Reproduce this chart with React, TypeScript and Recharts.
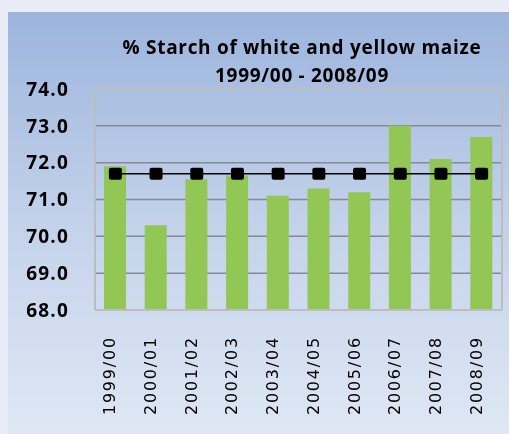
import { ComposedChart, Bar, Line, XAxis, YAxis, CartesianGrid } from 'recharts';

const seasons = ['1999/00', '2000/01', '2001/02', '2002/03', '2003/04', '2004/05', '2005/06', '2006/07', '2007/08', '2008/09'];
const starch = [71.9, 70.3, 71.55, 71.65, 71.1, 71.3, 71.2, 73.0, 72.1, 72.7];
const average = [71.7, 71.7, 71.7, 71.7, 71.7, 71.7, 71.7, 71.7, 71.7, 71.7];
const yTicks = [68, 69, 70, 71, 72, 73, 74];

const data = seasons.map((season, i) => ({ season, starch: starch[i], avg: average[i] }));

const FONT = '"DejaVu Sans", sans-serif';
const TITLE_FONT = '"Open Sans", "DejaVu Sans", sans-serif';

const SeasonTick = (props: any) => {
  const { x, y, payload } = props;
  return (
    <text
      x={x}
      y={y}
      transform={`rotate(-90, ${x}, ${y})`}
      textAnchor="end"
      fill="#000"
      fontFamily={FONT}
      fontSize={16}
      letterSpacing={1.8}
    >
      {payload.value}
    </text>
  );
};

const SquareDot = (props: any) => {
  const { cx, cy } = props;
  if (cx == null || cy == null) return null;
  return <rect x={cx - 6.5} y={cy - 6} width={13} height={12} rx={2} fill="#000" />;
};

export default function App() {
  return (
    <div style={{ position: 'fixed', inset: 0, background: '#e8ecf6' }}>
      <div
        style={{
          position: 'absolute',
          left: 8,
          top: 12,
          width: 501,
          height: 422,
          background: 'linear-gradient(to bottom, #9cb4dd 0%, #c3d2ea 50%, #dfe7f4 100%)',
        }}
      >
        <div
          style={{
            position: 'absolute',
            left: 0,
            width: 588,
            top: 21,
            textAlign: 'center',
            fontFamily: TITLE_FONT,
            fontWeight: 'bold',
            fontSize: 19,
            lineHeight: '28px',
            letterSpacing: 0.7,
            color: '#000',
          }}
        >
          % Starch of white and yellow maize
          <br />
          1999/00 - 2008/09
        </div>
        <ComposedChart
          width={501}
          height={422}
          data={data}
          margin={{ top: 76, right: 6, left: 0, bottom: 0 }}
          barCategoryGap="46%"
        >
          <CartesianGrid vertical={false} stroke="#858a94" strokeWidth={1.5} />
          <XAxis
            dataKey="season"
            height={124}
            axisLine={{ stroke: '#bdbdbd', strokeWidth: 2 }}
            tickLine={false}
            tick={<SeasonTick />}
            tickMargin={20}
            interval={0}
          />
          <XAxis
            xAxisId="top"
            orientation="top"
            dataKey="season"
            height={1}
            axisLine={{ stroke: '#bdbdbd', strokeWidth: 2 }}
            tickLine={false}
            tick={false}
          />
          <YAxis
            domain={[68, 74]}
            ticks={yTicks}
            width={87}
            axisLine={{ stroke: '#bdbdbd', strokeWidth: 2 }}
            tickLine={false}
            tickMargin={20}
            tickFormatter={(v: number) => v.toFixed(1)}
            tick={{ fill: '#000', fontFamily: TITLE_FONT, fontSize: 19, fontWeight: 'bold', letterSpacing: 1.2 }}
          />
          <YAxis
            yAxisId="right"
            orientation="right"
            domain={[68, 74]}
            width={1}
            axisLine={{ stroke: '#bdbdbd', strokeWidth: 2 }}
            tickLine={false}
            tick={false}
          />
          <Bar dataKey="starch" fill="#92c756" barSize={22} isAnimationActive={false} />
          <Line
            dataKey="avg"
            stroke="#000"
            strokeWidth={1.5}
            dot={<SquareDot />}
            activeDot={false}
            isAnimationActive={false}
          />
        </ComposedChart>
      </div>
    </div>
  );
}
